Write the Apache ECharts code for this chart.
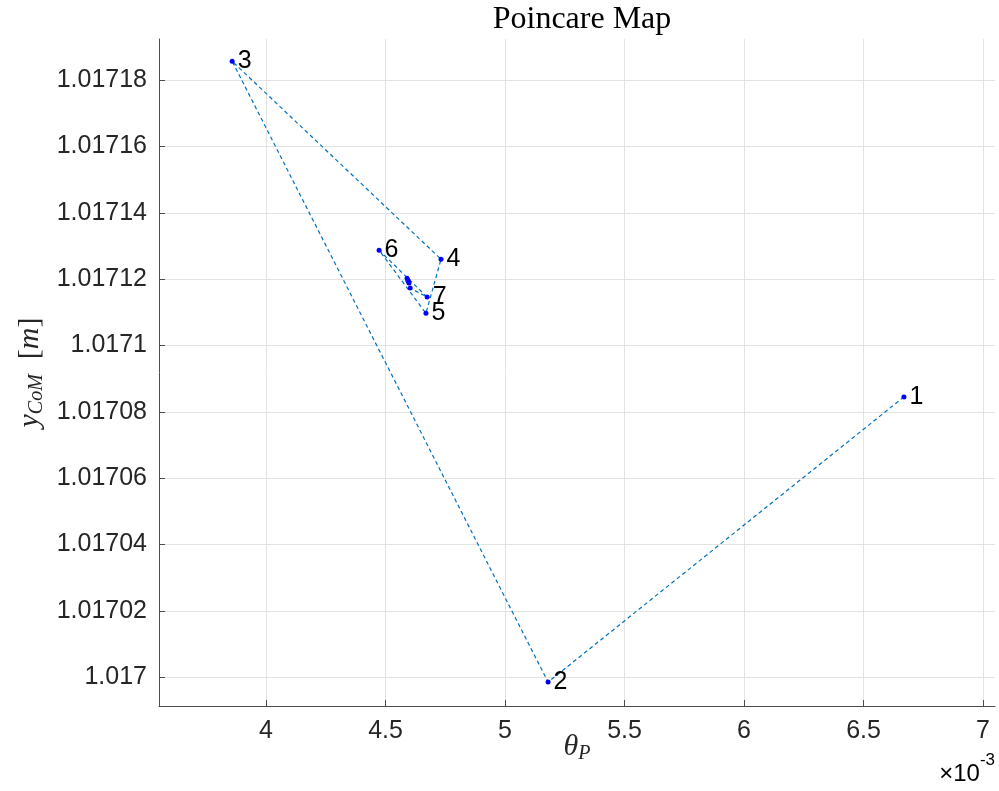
<!DOCTYPE html>
<html>
<head>
<meta charset="utf-8">
<script src="https://cdn.jsdelivr.net/npm/echarts@6/dist/echarts.min.js"></script>
<style>
  html, body { margin: 0; padding: 0; background: #fff; }
  #chart { width: 999px; height: 791px; }
</style>
</head>
<body>
<div id="chart"></div>
<script>
// theta_P values, in units of 1e-3 (axis shows x10^-3)
let thetaP = [6.669, 5.180, 3.858, 4.732, 4.669, 4.473, 4.674, 4.603, 4.590, 4.598, 4.594, 4.594];
// y of centre of mass [m]
let yCoM = [1.0170845, 1.0169985, 1.0171857, 1.0171260, 1.0171097, 1.0171287, 1.0171146,
  1.0171173, 1.0171203, 1.0171188, 1.0171197, 1.0171194];
// only the first points get a number next to them
let pointLabels = ["1", "2", "3", "4", "5", "6", "7"];
let xTicks = [4, 4.5, 5, 5.5, 6, 6.5, 7];
let yTicks = [1.017, 1.01702, 1.01704, 1.01706, 1.01708, 1.0171, 1.01712, 1.01714, 1.01716, 1.01718];

let seriesData = [];
for (let i = 0; i < thetaP.length; i++) {
  seriesData.push([thetaP[i], yCoM[i]]);
}

let axisColor = "#4d4d4d";
let gridColor = "#e3e3e3";
let textColor = "#262626";
let tickFont = "Liberation Sans";
let mathFont = "Liberation Serif";

let myChart = echarts.init(document.getElementById("chart"));
let option = {
  animation: false,
  backgroundColor: "#fff",
  title: {
    text: "Poincare Map",
    left: 577,
    top: -1,
    textAlign: "center",
    textStyle: {
      fontFamily: mathFont,
      fontWeight: "normal",
      fontSize: 32,
      color: "#000",
    },
  },
  grid: {
    left: 159,
    right: 4,
    top: 39,
    bottom: 85,
    containLabel: false,
  },
  xAxis: {
    type: "value",
    min: 3.552,
    max: 7.05,
    name: "{v|θ}{s|P}",
    nameLocation: "middle",
    nameGap: 24,
    nameMoveOverlap: false,
    nameTextStyle: {
      rich: {
        v: { fontFamily: mathFont, fontStyle: "italic", fontSize: 30, lineHeight: 34, color: textColor },
        s: { fontFamily: mathFont, fontStyle: "italic", fontSize: 20, lineHeight: 20, verticalAlign: "bottom", color: textColor },
      },
    },
    axisLine: { show: true, onZero: false, lineStyle: { color: axisColor, width: 1 } },
    axisTick: { show: true, inside: true, length: 6, customValues: xTicks, lineStyle: { color: axisColor } },
    axisLabel: {
      customValues: xTicks,
      margin: 13,
      fontFamily: tickFont,
      fontSize: 25,
      color: textColor,
      formatter: function (v) {
        return String(parseFloat(v.toFixed(3)));
      },
    },
    splitLine: { show: true, lineStyle: { color: gridColor, width: 1 } },
  },
  yAxis: {
    type: "value",
    min: 1.0169913,
    max: 1.0171924,
    name: "{v|y}{s|CoM}{b|  [}{v|m}{b|]}",
    nameLocation: "middle",
    nameRotate: 90,
    nameGap: 112,
    nameMoveOverlap: false,
    nameTextStyle: {
      rich: {
        v: { fontFamily: mathFont, fontStyle: "italic", fontSize: 30, lineHeight: 34, color: textColor },
        s: { fontFamily: mathFont, fontStyle: "italic", fontSize: 20, lineHeight: 20, verticalAlign: "bottom", color: textColor },
        b: { fontFamily: mathFont, fontSize: 30, lineHeight: 34, color: textColor },
      },
    },
    axisLine: { show: true, onZero: false, lineStyle: { color: axisColor, width: 1 } },
    axisTick: { show: true, inside: true, length: 6, customValues: yTicks, lineStyle: { color: axisColor } },
    axisLabel: {
      customValues: yTicks,
      margin: 12,
      fontFamily: tickFont,
      fontSize: 25,
      color: textColor,
      formatter: function (v) {
        return String(parseFloat(v.toFixed(5)));
      },
    },
    splitLine: { show: true, lineStyle: { color: gridColor, width: 1 } },
  },
  graphic: [
    {
      type: "text",
      right: 4,
      top: 752,
      style: {
        text: "{a|×10}{b|-3}",
        rich: {
          a: { fontFamily: tickFont, fontSize: 24, lineHeight: 34, color: textColor, verticalAlign: "bottom" },
          b: { fontFamily: tickFont, fontSize: 17, lineHeight: 17, color: textColor, verticalAlign: "top" },
        },
      },
    },
  ],
  series: [
    {
      type: "line",
      data: seriesData,
      symbol: "circle",
      symbolSize: 5,
      showSymbol: true,
      itemStyle: { color: "#0000ff" },
      lineStyle: { color: "#0072bd", width: 1.2, type: [4, 3] },
      label: {
        show: true,
        position: "right",
        distance: 3,
        fontFamily: tickFont,
        fontSize: 25,
        color: "#000",
        formatter: function (params) {
          return pointLabels[params.dataIndex] || "";
        },
      },
      emphasis: { disabled: true },
    },
  ],
};
myChart.setOption(option);
</script>
</body>
</html>
